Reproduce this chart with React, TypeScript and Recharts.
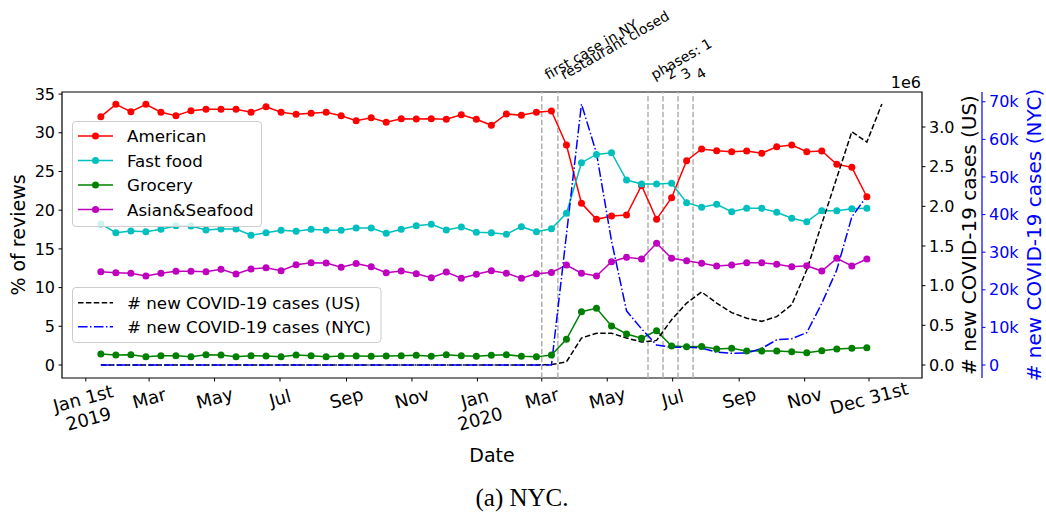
import React from 'react';
import { ComposedChart, Line, XAxis, YAxis, ReferenceLine, ReferenceArea } from 'recharts';

// x positions: days since Jan 1st 2019 (biweekly points)
const days = [14, 28, 42, 56, 70, 84, 98, 112, 126, 140, 154, 168, 182, 196, 210, 224, 238, 252, 266, 280,
  294, 308, 322, 336, 350, 364, 378, 392, 406, 420, 434, 448, 462, 476, 490, 504, 518, 532, 546, 560,
  574, 588, 602, 616, 630, 644, 658, 672, 686, 700, 714, 728, 742];

const american = [32.08, 33.68, 32.73, 33.68, 32.65, 32.21, 32.86, 33.04, 33.04, 33.04,
  32.65, 33.37, 32.65, 32.39, 32.52, 32.65, 32.2, 31.56, 31.95, 31.36,
  31.82, 31.78, 31.82, 31.74, 32.34, 31.74, 30.97, 32.43, 32.26, 32.65,
  32.82, 28.42, 20.89, 18.82, 19.25, 19.38, 23.2, 18.82, 21.61, 26.4,
  27.91, 27.69, 27.56, 27.65, 27.35, 28.2, 28.42, 27.56, 27.65, 25.93,
  25.54, 21.74];

const fastFood = [18.22, 17.09, 17.31, 17.22, 17.53, 18.0, 17.96, 17.44, 17.57, 17.57,
  16.76, 17.09, 17.4, 17.27, 17.53, 17.4, 17.4, 17.7, 17.7, 17.02,
  17.53, 18.0, 18.18, 17.44, 17.83, 17.14, 17.09, 16.89, 17.87, 17.22,
  17.6, 19.6, 26.14, 27.2, 27.43, 23.9, 23.39, 23.39, 23.47, 20.97,
  20.37, 20.76, 19.81, 20.24, 20.24, 19.73, 18.95, 18.52, 19.94, 19.94,
  20.19, 20.24];

const grocery = [1.42, 1.29, 1.33, 1.07, 1.2, 1.2, 1.07, 1.33, 1.29, 1.07,
  1.2, 1.16, 1.07, 1.29, 1.2, 1.07, 1.16, 1.16, 1.12, 1.16,
  1.2, 1.25, 1.12, 1.33, 1.2, 1.12, 1.25, 1.33, 1.12, 1.05,
  1.3, 3.32, 6.89, 7.33, 5.04, 4.0, 3.45, 4.43, 2.45, 2.37,
  2.4, 2.07, 2.16, 1.81, 1.81, 1.81, 1.72, 1.59, 1.85, 2.07,
  2.16, 2.24];

const asianSeafood = [12.05, 11.93, 11.85, 11.5, 11.85, 12.11, 12.11, 12.05, 12.36, 11.76,
  12.4, 12.57, 12.18, 12.96, 13.22, 13.18, 12.62, 13.1, 12.7, 11.93,
  12.14, 11.8, 11.28, 12.02, 11.2, 11.72, 12.18, 11.85, 11.2, 11.8,
  11.95, 12.92, 11.85, 11.5, 13.35, 13.91, 13.7, 15.72, 13.78, 13.48,
  13.14, 12.79, 12.92, 13.22, 13.22, 13.01, 12.7, 12.83, 12.14, 13.78,
  12.79, 13.7];

// new COVID-19 cases in the US (millions, per two weeks)
const usCases = [0, 0, 0, 0, 0, 0, 0, 0, 0, 0,
  0, 0, 0, 0, 0, 0, 0, 0, 0, 0,
  0, 0, 0, 0, 0, 0, 0, 0, 0, 0,
  0.005, 0.04, 0.34, 0.40, 0.40, 0.34, 0.29, 0.31, 0.57, 0.78,
  0.92, 0.78, 0.66, 0.59, 0.55, 0.61, 0.76, 1.20, 1.78, 2.36,
  2.94, 2.81, 3.29];

// new COVID-19 cases in NYC (thousands, per two weeks)
const nycCases = [0, 0, 0, 0, 0, 0, 0, 0, 0, 0,
  0, 0, 0, 0, 0, 0, 0, 0, 0, 0,
  0, 0, 0, 0, 0, 0, 0, 0, 0, 0,
  0, 34.7, 69.4, 56.3, 33.0, 14.4, 9.6, 5.3, 4.7, 4.7,
  4.5, 3.4, 3.1, 3.2, 4.4, 6.7, 7.0, 8.6, 16.4, 25.3,
  39.4, 44.9];

const xTickDays = [0, 59, 120, 181, 243, 304, 365, 425, 486, 547, 609, 670, 730];
const xTickLabels = ['Jan 1st\n2019', 'Mar', 'May', 'Jul', 'Sep', 'Nov', 'Jan\n2020', 'Mar', 'May', 'Jul', 'Sep', 'Nov', 'Dec 31st'];

const leftTicks = [0, 5, 10, 15, 20, 25, 30, 35];
const usTicks = [0, 0.5, 1.0, 1.5, 2.0, 2.5, 3.0];
const nycTicks = [0, 10, 20, 30, 40, 50, 60, 70];

const eventDays = [425, 440, 524, 538, 552, 566];
const eventLabels = ['first case in NY', 'restaurant closed', 'phases: 1', '2', '3', '4'];

const reviewSeries = [
  { key: 'american', name: 'American', color: '#ff0000' },
  { key: 'fastFood', name: 'Fast food', color: '#00bfbf' },
  { key: 'grocery', name: 'Grocery', color: '#008000' },
  { key: 'asianSeafood', name: 'Asian&Seafood', color: '#bf00bf' },
];

const data = days.map((d, i) => ({
  day: d,
  american: american[i],
  fastFood: fastFood[i],
  grocery: grocery[i],
  asianSeafood: asianSeafood[i],
  us: usCases[i],
  nyc: nycCases[i],
}));

const FONT = 'DejaVu Sans';
const X_DOMAIN: [number, number] = [-22.2, 779.4];
const LEFT_DOMAIN: [number, number] = [-1.68, 35.27];
const US_DOMAIN: [number, number] = [-0.164, 3.441];
const NYC_DOMAIN: [number, number] = [-3.46, 72.6];

const US_DASH = '5.5 2.4';
const NYC_DASH = '9.6 2.4 1.5 2.4';

const XTick = (props: any) => {
  const { x, y, payload } = props;
  const idx = xTickDays.indexOf(payload.value);
  const label = idx >= 0 ? xTickLabels[idx] : '';
  const lines = label.split('\n');
  const lh = 21;
  const cy = y + 4 + (lines.length * lh) / 2;
  return (
    <g transform={`rotate(-15, ${x}, ${cy})`}>
      {lines.map((ln, i) => (
        <text key={i} x={x} y={cy + (i - (lines.length - 1) / 2) * lh} textAnchor="middle"
          dominantBaseline="central" fontFamily={FONT} fontSize={18} fill="#000">{ln}</text>
      ))}
    </g>
  );
};

const EventLabel = (props: any) => {
  const { viewBox, txt } = props;
  if (!viewBox) return null;
  const x = viewBox.x + 6.5;
  const y = viewBox.y - 12;
  return (
    <text x={x} y={y} transform={`rotate(-30, ${x}, ${y})`} fontFamily={FONT} fontSize={14} fill="#000">{txt}</text>
  );
};

const VLabel = (props: any) => {
  const { viewBox, txt, off, color, size } = props;
  if (!viewBox) return null;
  const cx = viewBox.x + off;
  const cy = viewBox.y + viewBox.height / 2;
  return (
    <text x={cx} y={cy} transform={`rotate(-90, ${cx}, ${cy})`} textAnchor="middle" dominantBaseline="central"
      fontFamily={FONT} fontSize={size} fill={color}>{txt}</text>
  );
};

const DateLabel = (props: any) => {
  const { viewBox } = props;
  if (!viewBox) return null;
  return (
    <text x={viewBox.x + viewBox.width / 2} y={viewBox.y + 84} textAnchor="middle" fontFamily={FONT} fontSize={19} fill="#000">Date</text>
  );
};

export default function App() {
  return (
    <div style={{ position: 'absolute', left: 0, top: 0, width: 1046, height: 517, background: '#fff' }}>
      <ComposedChart width={1046} height={517} data={data} margin={{ top: 92, right: 0, bottom: 0, left: 0 }}>
        <XAxis dataKey="day" type="number" domain={X_DOMAIN} allowDataOverflow ticks={xTickDays} interval={0}
          tick={<XTick />} tickLine={{ stroke: '#000', strokeWidth: 1 }} tickSize={3.5} tickMargin={2}
          axisLine={false} height={139} label={<DateLabel />} />
        <YAxis yAxisId="l0" orientation="left" width={62} domain={LEFT_DOMAIN} allowDataOverflow ticks={leftTicks}
          interval={0} tickSize={3.5} tickMargin={3.5} axisLine={false} tickLine={{ stroke: '#000' }}
          tick={{ fontFamily: FONT, fontSize: 16, fill: '#000' }}
          label={<VLabel txt="% of reviews" off={18} color="#000" size={19} />} />
        <YAxis yAxisId="r1" orientation="right" width={60} domain={US_DOMAIN} allowDataOverflow ticks={usTicks}
          interval={0} tickSize={3.5} tickMargin={3.5} axisLine={false} tickLine={{ stroke: '#000' }}
          tickFormatter={(v: number) => v.toFixed(1)}
          tick={{ fontFamily: FONT, fontSize: 16, fill: '#000' }}
          label={<VLabel txt="# new COVID-19 cases (US)" off={47} color="#000" size={20} />} />
        <YAxis yAxisId="r2" orientation="right" width={64} domain={NYC_DOMAIN} allowDataOverflow ticks={nycTicks}
          interval={0} tickSize={3.5} tickMargin={3.5} axisLine={{ stroke: '#0000ff', strokeWidth: 1.2 }}
          tickLine={{ stroke: '#0000ff' }}
          tickFormatter={(v: number) => (v === 0 ? '0' : `${v}k`)}
          tick={{ fontFamily: FONT, fontSize: 16, fill: '#0000ff' }}
          label={<VLabel txt="# new COVID-19 cases (NYC)" off={52} color="#0000ff" size={20} />} />

        <ReferenceArea yAxisId="l0" x1={X_DOMAIN[0]} x2={X_DOMAIN[1]} y1={LEFT_DOMAIN[0]} y2={LEFT_DOMAIN[1]}
          fill="none" fillOpacity={0} stroke="#000" strokeWidth={1.2} strokeOpacity={1} />

        {eventDays.map((d, i) => (
          <ReferenceLine key={d} yAxisId="l0" x={d} stroke="#b0b0b0" strokeWidth={1.5} strokeDasharray={US_DASH}
            label={<EventLabel txt={eventLabels[i]} />} />
        ))}

        {reviewSeries.map((s) => (
          <Line key={s.key} yAxisId="l0" type="linear" dataKey={s.key} name={s.name} stroke={s.color}
            strokeWidth={1.5} dot={{ r: 3.5, fill: s.color, stroke: s.color, strokeWidth: 0 }}
            isAnimationActive={false} connectNulls={false} />
        ))}
        <Line yAxisId="r1" type="linear" dataKey="us" name="# new COVID-19 cases (US)" stroke="#000"
          strokeWidth={1.5} strokeDasharray={US_DASH} dot={false} isAnimationActive={false} />
        <Line yAxisId="r2" type="linear" dataKey="nyc" name="# new COVID-19 cases (NYC)" stroke="#0000ff"
          strokeWidth={1.5} strokeDasharray={NYC_DASH} dot={false} isAnimationActive={false} />
      </ComposedChart>

      <svg width={1046} height={517} style={{ position: 'absolute', left: 0, top: 0, pointerEvents: 'none' }}>
        <g fontFamily={FONT}>
          <rect x={72.5} y={121.5} width={189} height={105} rx={3.5} fill="#fff" fillOpacity={0.8} stroke="#cccccc" />
          {reviewSeries.map((s, i) => {
            const cy = 136 + i * 24.5;
            return (
              <g key={s.key}>
                <line x1={78} x2={113} y1={cy} y2={cy} stroke={s.color} strokeWidth={1.5} />
                <circle cx={95.5} cy={cy} r={3.5} fill={s.color} />
                <text x={127} y={cy} dominantBaseline="central" fontSize={16.7} fill="#000">{s.name}</text>
              </g>
            );
          })}
          <rect x={72.5} y={287.5} width={308.5} height={55} rx={3.5} fill="#fff" fillOpacity={0.8} stroke="#cccccc" />
          <line x1={78} x2={113} y1={302.7} y2={302.7} stroke="#000" strokeWidth={1.5} strokeDasharray={US_DASH} />
          <text x={127} y={302.7} dominantBaseline="central" fontSize={16.7} fill="#000"># new COVID-19 cases (US)</text>
          <line x1={78} x2={113} y1={326.7} y2={326.7} stroke="#0000ff" strokeWidth={1.5} strokeDasharray={NYC_DASH} />
          <text x={127} y={326.7} dominantBaseline="central" fontSize={16.7} fill="#000"># new COVID-19 cases (NYC)</text>
          <text x={921} y={88} textAnchor="end" fontSize={16} fill="#000">1e6</text>
        </g>
        <text x={522} y={506} textAnchor="middle" fontFamily="Liberation Serif" fontSize={25} fill="#000">(a) NYC.</text>
      </svg>
    </div>
  );
}
